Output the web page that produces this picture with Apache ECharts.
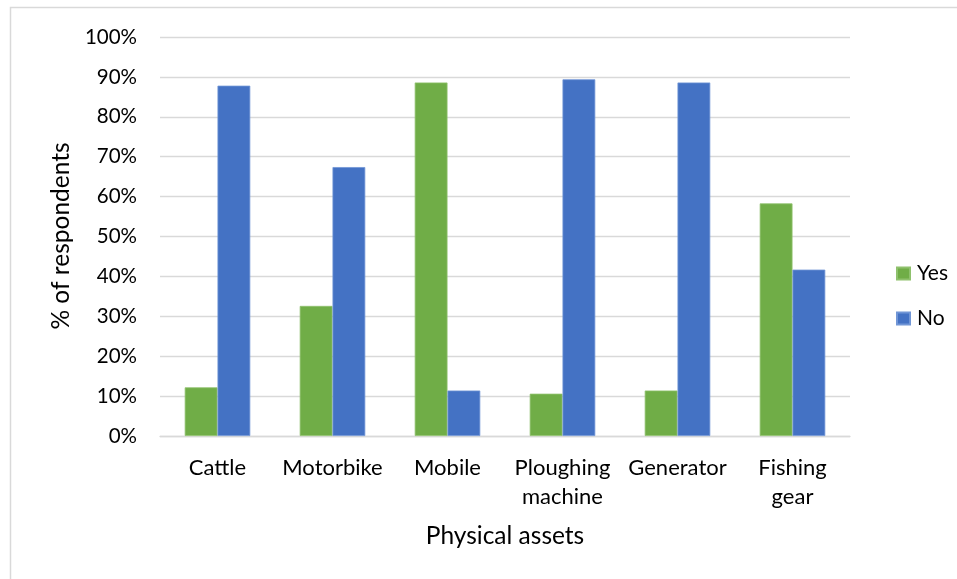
<!DOCTYPE html>
<html>
<head>
<meta charset="utf-8">
<script src="https://cdn.jsdelivr.net/npm/echarts@6/dist/echarts.min.js"></script>
<style>
  html, body { margin: 0; padding: 0; background: #fff; }
  #chart { width: 957px; height: 579px; }
</style>
</head>
<body>
<div id="chart"></div>
<script>
// Ownership of physical assets, share of respondents (%)
const categories = ['Cattle', 'Motorbike', 'Mobile', 'Ploughing\nmachine', 'Generator', 'Fishing\ngear'];
const yesValues = [12.2, 32.6, 88.6, 10.6, 11.4, 58.3];
const noValues = [87.8, 67.4, 11.4, 89.4, 88.6, 41.7];
const seriesNames = ['Yes', 'No'];
const yTicks = { min: 0, max: 100, interval: 10 };

const FONT = 'Lato';
const TEXT = '#000000';
const GRID = '#d9d9d9';

const chart = echarts.init(document.getElementById('chart'), null, { renderer: 'canvas' });

chart.setOption({
  backgroundColor: '#ffffff',
  animation: false,
  textStyle: { fontFamily: FONT, color: TEXT },
  grid: { left: 160, right: 107, top: 37, bottom: 143, containLabel: false },
  legend: {
    orient: 'vertical',
    left: 891,
    top: 258,
    itemWidth: 13,
    itemHeight: 12,
    itemGap: 24,
    icon: 'rect',
    data: seriesNames,
    textStyle: { fontFamily: FONT, fontSize: 21, color: TEXT, padding: [0, 0, 0, 2] }
  },
  xAxis: {
    type: 'category',
    data: categories,
    axisLine: { show: true, lineStyle: { color: GRID, width: 1.3 } },
    axisTick: { show: false },
    axisLabel: {
      fontFamily: FONT, fontSize: 22, color: TEXT,
      margin: 17, lineHeight: 29, interval: 0
    }
  },
  yAxis: {
    type: 'value',
    min: yTicks.min,
    max: yTicks.max,
    interval: yTicks.interval,
    axisLine: { show: false },
    axisTick: { show: false },
    splitLine: { lineStyle: { color: GRID, width: 1.3 } },
    axisLabel: {
      fontFamily: FONT, fontSize: 20.5, color: TEXT, margin: 23,
      formatter: v => v + '%'
    }
  },
  graphic: [
    {
      type: 'polyline',
      shape: { points: [[10.5, 579], [10.5, 7.5], [957, 7.5]] },
      style: { stroke: GRID, lineWidth: 1.5, fill: null },
      silent: true
    },
    {
      type: 'text',
      x: 505, y: 536,
      style: { text: 'Physical assets', fontFamily: FONT, fontSize: 24.5, fill: TEXT, align: 'center', verticalAlign: 'middle' }
    },
    {
      type: 'text',
      x: 61, y: 236,
      rotation: Math.PI / 2,
      style: { text: '% of respondents', fontFamily: FONT, fontSize: 24.5, fill: TEXT, align: 'center', verticalAlign: 'middle' }
    }
  ],
  series: [
    {
      name: seriesNames[0],
      type: 'bar',
      data: yesValues,
      barGap: '0%',
      barCategoryGap: '43%',
      itemStyle: { color: '#70ad47', borderColor: '#8fc16d', borderWidth: 0.8 }
    },
    {
      name: seriesNames[1],
      type: 'bar',
      data: noValues,
      barGap: '0%',
      barCategoryGap: '43%',
      itemStyle: { color: '#4472c4', borderColor: '#7196d6', borderWidth: 0.8 }
    }
  ]
});
</script>
</body>
</html>
